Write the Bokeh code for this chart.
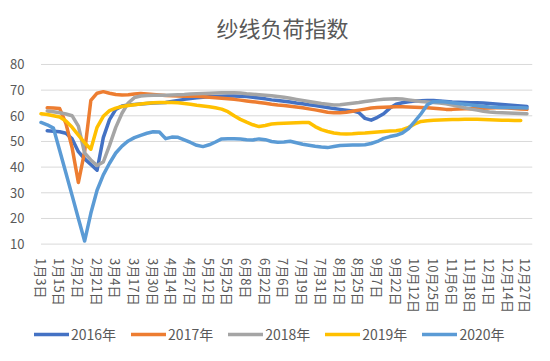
import math
from bokeh.plotting import figure
from bokeh.models import Range1d, FixedTicker, Legend, LegendItem
from bokeh.embed import file_html
from bokeh.resources import INLINE

nan = math.nan

tick_labels = ["1月3日", "1月15日", "2月2日", "2月21日", "3月4日", "3月17日", "3月30日",
               "4月14日", "4月27日", "5月12日", "5月25日", "6月8日", "6月22日", "7月6日",
               "7月19日", "7月31日", "8月12日", "8月25日", "9月7日", "9月22日", "10月12日",
               "10月25日", "11月6日", "11月18日", "12月1日", "12月14日", "12月27日"]
step = 3  # data points per labelled date
x = list(range((len(tick_labels) - 1) * step + 1))
y_ticks = [10, 20, 30, 40, 50, 60, 70, 80]

s2016 = [nan, 54.2, 54.0, 53.8, 53.2, 51.0, 46.0, 43.2, 41.0, 38.8,
         51.5, 58.5, 62.5, 63.8, 64.2, 64.4, 64.6, 64.8, 65.0, 65.1,
         65.2, 65.6, 66.0, 66.4, 66.7, 67.0, 67.2, 67.4, 67.5, 67.6,
         67.7, 67.7, 67.6, 67.5, 67.2, 66.9, 66.6, 66.2, 66.0, 65.7,
         65.4, 65.0, 64.7, 64.3, 64.0, 63.6, 63.2, 62.8, 62.5, 62.2,
         61.9, 61.3, 59.0, 58.3, 59.4, 60.8, 63.0, 64.5, 65.1, 65.5,
         65.8, 65.9, 66.0, 66.0, 65.8, 65.6, 65.4, 65.3, 65.2, 65.1,
         65.1, 65.0, 64.8, 64.6, 64.4, 64.2, 64.0, 63.8, 63.6]
s2017 = [nan, 63.1, 63.0, 62.8, 57.0, 47.5, 34.0, 46.0, 66.0, 68.8,
         69.4, 68.8, 68.3, 68.1, 68.2, 68.5, 68.7, 68.5, 68.3, 68.1,
         67.9, 67.8, 67.7, 67.6, 67.6, 67.6, 67.4, 67.2, 67.0, 66.8,
         66.6, 66.4, 66.1, 65.8, 65.5, 65.2, 64.9, 64.5, 64.2, 64.0,
         63.7, 63.4, 63.1, 62.7, 62.3, 61.9, 61.4, 61.2, 61.2, 61.4,
         61.8, 62.2, 62.6, 63.0, 63.2, 63.3, 63.4, 63.5, 63.5, 63.4,
         63.3, 63.2, 63.1, 62.9, 62.7, 62.5, 62.5, 62.6, 62.7, 62.7,
         62.8, 62.9, 63.0, 63.1, 63.1, 63.0, 62.8, 62.6, 62.5]
s2018 = [nan, 61.9, 61.6, 61.2, 60.7, 60.0, 56.0, 45.5, 42.8, 40.6,
         42.0, 48.5, 55.5, 61.0, 65.0, 67.1, 67.7, 67.9, 68.0, 68.0,
         68.0, 68.1, 68.2, 68.3, 68.5, 68.6, 68.7, 68.8, 68.9, 69.0,
         69.0, 69.0, 68.9, 68.6, 68.4, 68.2, 68.0, 67.8, 67.5, 67.2,
         66.8, 66.4, 66.0, 65.6, 65.2, 64.8, 64.5, 64.2, 64.3, 64.6,
         64.9, 65.2, 65.6, 65.9, 66.2, 66.4, 66.5, 66.6, 66.5, 66.2,
         65.9, 65.6, 65.4, 65.2, 65.0, 64.7, 64.2, 63.7, 63.1, 62.6,
         62.2, 61.8, 61.5, 61.3, 61.2, 61.1, 61.0, 60.9, 60.8]
s2019 = [60.8, 60.5, 60.0, 59.5, 58.0, 55.5, 52.5, 49.5, 47.0, 55.5,
         59.8, 62.0, 63.0, 63.6, 64.0, 64.3, 64.6, 64.9, 65.1, 65.2,
         65.2, 65.2, 65.1, 64.8, 64.5, 64.1, 63.8, 63.5, 63.1, 62.6,
         61.6, 60.0, 58.6, 57.5, 56.5, 55.8, 56.2, 56.8, 57.0, 57.1,
         57.2, 57.3, 57.4, 57.4, 55.8, 54.6, 53.9, 53.3, 53.0, 52.9,
         53.0, 53.2, 53.3, 53.5, 53.7, 53.9, 54.1, 54.2, 54.6, 55.5,
         56.8, 57.8, 58.1, 58.3, 58.4, 58.5, 58.6, 58.6, 58.7, 58.7,
         58.7, 58.6, 58.5, 58.4, 58.3, 58.3, 58.2, 58.2, nan]
s2020 = [57.4, 56.5, 55.2, 46.5, 37.7, 28.9, 20.0, 11.2, 22.0, 31.0,
         37.0, 41.5, 45.5, 48.2, 50.2, 51.5, 52.4, 53.2, 53.8, 53.7,
         51.1, 51.7, 51.6, 50.6, 49.6, 48.5, 48.0, 48.7, 49.8, 51.0,
         51.1, 51.1, 51.0, 50.7, 50.6, 51.0, 50.7, 50.0, 49.7, 49.8,
         50.1, 49.5, 48.9, 48.5, 48.1, 47.8, 47.6, 48.0, 48.4, 48.5,
         48.6, 48.6, 48.7, 49.2, 50.0, 51.2, 51.9, 52.4, 53.3, 55.0,
         57.8, 60.8, 64.3, 65.5, 65.6, 65.4, 65.1, 64.8, 64.5, 64.2,
         63.9, 63.6, 63.4, 63.3, 63.2, 63.2, 63.1, 63.1, 63.0]

series_names = ["2016年", "2017年", "2018年", "2019年", "2020年"]
series_values = [s2016, s2017, s2018, s2019, s2020]
colors = ["#4472C4", "#ED7D31", "#A5A5A5", "#FFC000", "#5B9BD5"]

FONT = "Noto Sans CJK SC"
TXT = "#595959"
GRID = "#D9D9D9"

# The frame extends around the value area so that tick labels and the legend sit inside it.
p = figure(width=534, height=345, output_backend="svg", toolbar_location=None,
           x_range=Range1d(-1.685, 79.21), y_range=Range1d(-29.5, 85.05),
           min_border_left=30, min_border_right=0, min_border_top=50, min_border_bottom=0,
           title="纱线负荷指数")
p.outline_line_color = None
p.background_fill_color = "white"
p.border_fill_color = "white"

p.title.align = "center"
p.title.text_font = FONT
p.title.text_font_size = "22px"
p.title.text_font_style = "normal"
p.title.text_color = TXT
p.title.standoff = 17

# horizontal gridlines limited to the value area
p.segment(x0=x[0], x1=x[-1] + 0.85, y0=y_ticks, y1=y_ticks, line_color=GRID, line_width=1)
p.xgrid.grid_line_color = None
p.ygrid.grid_line_color = None

# axes
p.yaxis.ticker = FixedTicker(ticks=y_ticks)
p.yaxis.bounds = (y_ticks[0], y_ticks[-1])
p.yaxis.axis_line_color = None
p.yaxis.major_tick_line_color = None
p.yaxis.minor_tick_line_color = None
p.yaxis.major_label_standoff = 0
p.yaxis.major_label_text_font = FONT
p.yaxis.major_label_text_font_size = "13px"
p.yaxis.major_label_text_color = TXT

p.xaxis.fixed_location = y_ticks[0]
p.xaxis.ticker = FixedTicker(ticks=[i * step for i in range(len(tick_labels))])
p.xaxis.major_label_overrides = {i * step: lab for i, lab in enumerate(tick_labels)}
p.xaxis.major_label_orientation = "vertical"
p.xaxis.axis_line_color = None
p.xaxis.major_tick_line_color = None
p.xaxis.minor_tick_line_color = None
p.xaxis.major_label_standoff = 8
p.xaxis.major_label_text_font = FONT
p.xaxis.major_label_text_font_size = "13px"
p.xaxis.major_label_text_color = TXT

items = []
for name, vals, col in zip(series_names, series_values, colors):
    r = p.line(x, vals, line_color=col, line_width=3.5, line_join="round", line_cap="round")
    items.append(LegendItem(label=name, renderers=[r]))

legend = Legend(items=items, orientation="horizontal", location=(4, 1),
                glyph_width=35, glyph_height=14, label_height=14, label_standoff=2, spacing=15,
                padding=0, margin=0, border_line_color=None, background_fill_alpha=0,
                label_text_font=FONT, label_text_font_size="14px", label_text_color=TXT)
p.add_layout(legend)

open("out.html", "w").write(file_html(p, INLINE))
